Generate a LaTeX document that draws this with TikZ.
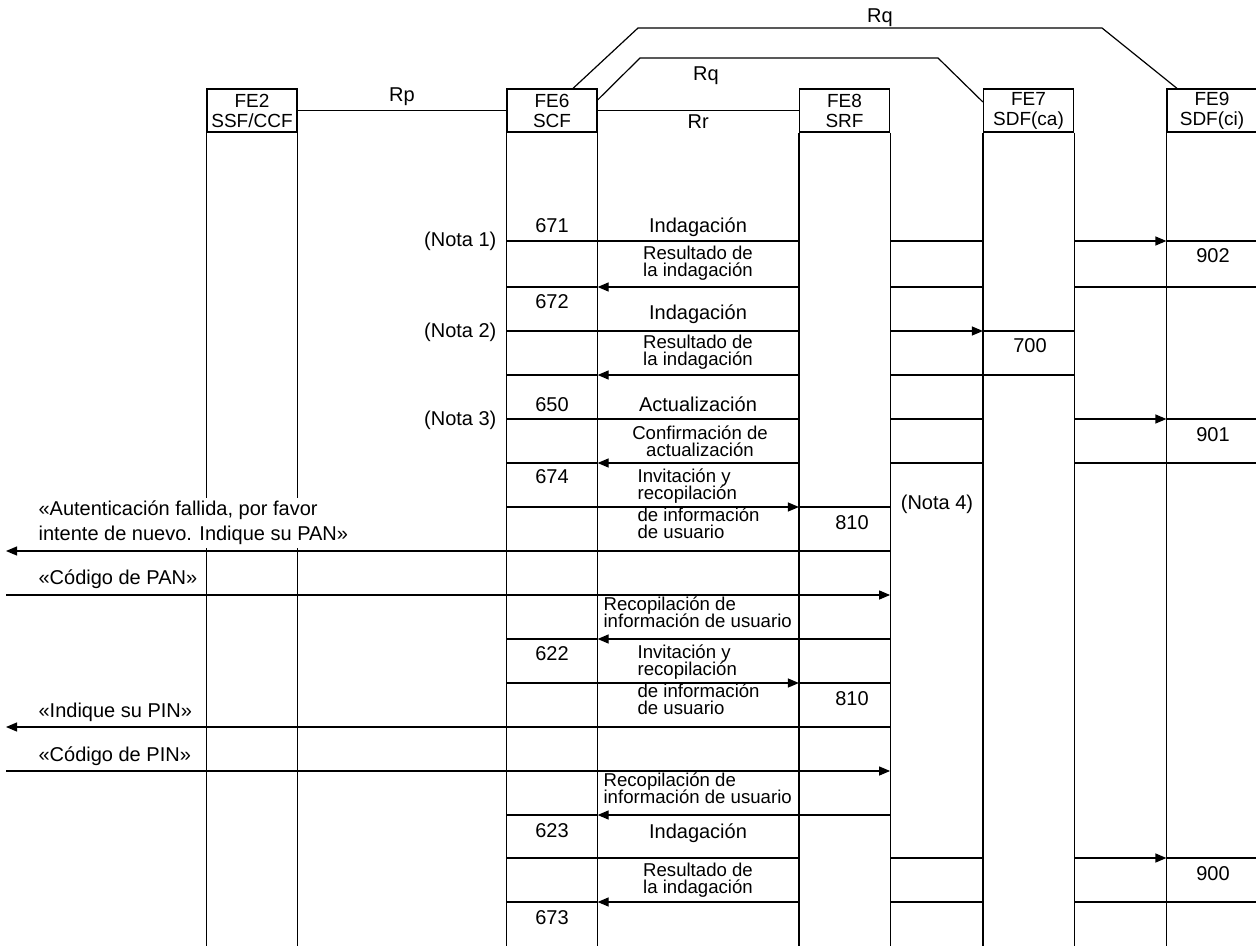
\documentclass[tikz,border=0pt]{standalone}
\usepackage{fontspec}
\setmainfont{Liberation Sans}
\usetikzlibrary{arrows.meta}

\tikzset{
  hdr/.style={draw, minimum width=45pt, minimum height=21.5pt, inner sep=0pt,
    align=center, font=\fontsize{9.5}{10}\selectfont},
  lab/.style={inner sep=0pt, font=\fontsize{10}{12}\selectfont},
  sml/.style={inner sep=0pt, align=center,
    font={\fontsize{9.3}{8.5}\selectfont\lineskiplimit=-5pt\relax}},
  arr/.style={-{Triangle[length=5.5pt,width=4.5pt]}},
}

\begin{document}
\begin{tikzpicture}[x=0.5pt, y=-0.5pt, line width=0.6pt]
\useasboundingbox (0,0) rectangle (1256,946);

% Entity heads
\node[hdr] (fe2) at (252,110.5) {FE2\\SSF/CCF};
\node[hdr] (fe6) at (552,110.5) {FE6\\SCF};
\node[hdr] (fe8) at (844.5,110.5) {FE8\\SRF};
\node[hdr] (fe7) at (1028.5,110.5) {FE7\\SDF(ca)};
\node[hdr] (fe9) at (1212,110.5) {FE9\\SDF(ci)};

% Column edges
\coordinate (a2) at (fe2.south west); \coordinate (b2) at (fe2.south east);
\coordinate (a6) at (fe6.south west); \coordinate (b6) at (fe6.south east);
\coordinate (a8) at (fe8.south west); \coordinate (b8) at (fe8.south east);
\coordinate (a7) at (fe7.south west); \coordinate (b7) at (fe7.south east);
\coordinate (a9) at (fe9.south west); \coordinate (b9) at (fe9.south east);
\coordinate (usr) at (6,0);

% Columns
\draw (a2) -- (a2 |- 0,950) (b2) -- (b2 |- 0,950);
\draw (a6) -- (a6 |- 0,950) (b6) -- (b6 |- 0,950);
\draw (a8) -- (a8 |- 0,950) (b8) -- (b8 |- 0,950);
\draw (a7) -- (a7 |- 0,950) (b7) -- (b7 |- 0,950);
\draw (a9) -- (a9 |- 0,950) (b9) -- (b9 |- 0,950);

% Reference points
\draw (fe2) -- node[lab, anchor=base, yshift=4.25pt] (rp) {Rp} (fe6);
\draw (fe6) -- node[lab, anchor=base, yshift=-9pt] (rr) {Rr} (fe8);
\draw (fe6.north east |- 0,100) -- (640,58) -- (938,58) -- (fe7.west |- 0,102);
\node[lab, anchor=base] (rq1) at (706,81) {Rq};
\draw (573,0 |- fe6.north) -- (638,28) -- (1102,28) -- (1177,0 |- fe9.north);
\node[lab, anchor=base] (rq2) at (880,23) {Rq};

% Indagacion 671 / 902
\node[lab, anchor=base] (n671) at (552,233) {671};
\node[lab, anchor=base] (ind1) at (698,233) {Indagación};
\node[lab, anchor=base east] (nota1) at (497,247) {(Nota 1)};
\draw (a6 |- 0,241) -- (a8 |- 0,241) (b8 |- 0,241) -- (a7 |- 0,241) (a9 |- 0,241) -- (b9 |- 0,241);
\draw[arr] (b7 |- 0,241) -- (a9 |- 0,241);
\node[lab, anchor=base] (n902) at (1213,263) {902};
\node[sml] (res1) at (698,263) {Resultado de\\la indagación};
\draw (a6 |- 0,287) -- (b6 |- 0,287) (b8 |- 0,287) -- (a7 |- 0,287) (b7 |- 0,287) -- (b9 |- 0,287);
\draw[arr] (a8 |- 0,287) -- (b6 |- 0,287);

% Indagacion 672 / 700
\node[lab, anchor=base] (n672) at (552,308) {672};
\node[lab, anchor=base] (ind2) at (698,320) {Indagación};
\node[lab, anchor=base east] (nota2) at (497,337) {(Nota 2)};
\draw (a6 |- 0,331) -- (a8 |- 0,331) (a7 |- 0,331) -- (b7 |- 0,331);
\draw[arr] (b8 |- 0,331) -- (a7 |- 0,331);
\node[lab, anchor=base] (n700) at (1030,352) {700};
\node[sml] (res2) at (698,352) {Resultado de\\la indagación};
\draw (a6 |- 0,375) -- (b6 |- 0,375) (b8 |- 0,375) -- (b7 |- 0,375);
\draw[arr] (a8 |- 0,375) -- (b6 |- 0,375);

% Actualizacion 650 / 901
\node[lab, anchor=base] (n650) at (552,411) {650};
\node[lab, anchor=base] (act) at (698,411) {Actualización};
\node[lab, anchor=base east] (nota3) at (497,425) {(Nota 3)};
\draw (a6 |- 0,419) -- (a8 |- 0,419) (b8 |- 0,419) -- (a7 |- 0,419) (a9 |- 0,419) -- (b9 |- 0,419);
\draw[arr] (b7 |- 0,419) -- (a9 |- 0,419);
\node[lab, anchor=base] (n901) at (1213,441) {901};
\node[sml] (conf) at (700,441) {Confirmación de\\actualización};
\draw (a6 |- 0,463) -- (b6 |- 0,463) (b8 |- 0,463) -- (a7 |- 0,463) (b7 |- 0,463) -- (b9 |- 0,463);
\draw[arr] (a8 |- 0,463) -- (b6 |- 0,463);

% Invitacion 674 / 810, PAN
\node[lab, anchor=base] (n674) at (552,483) {674};
\node[sml, align=left, anchor=west] (inv1) at (637,486) {Invitación y\\recopilación};
\draw[arr] (a6 |- 0,507) -- (a8 |- 0,507);
\draw (a8 |- 0,507) -- (b8 |- 0,507);
\node[sml, align=left, anchor=west] (inf1) at (637,523) {de información\\de usuario};
\node[lab, anchor=base] (n810a) at (852,529) {810};
\node[lab, anchor=base] (nota4) at (937,509) {(Nota 4)};
\node[lab, fill=white, inner sep=1.5pt, align=left, anchor=west,
  font=\fontsize{10}{12.5}\selectfont] (aut) at (35,523)
  {«Autenticación fallida, por favor\\intente de nuevo. Indique su PAN»};
\draw[arr] (b8 |- 0,551) -- (usr |- 0,551);
\node[lab, anchor=base west] (pan) at (38,584) {«Código de PAN»};
\draw[arr] (usr |- 0,595) -- (b8 |- 0,595);
\node[sml, align=left, anchor=west] (rec1) at (603,612) {Recopilación de\\información de usuario};
\draw (a6 |- 0,639) -- (b6 |- 0,639);
\draw[arr] (b8 |- 0,639) -- (b6 |- 0,639);

% Invitacion 622 / 810, PIN
\node[lab, anchor=base] (n622) at (552,660) {622};
\node[sml, align=left, anchor=west] (inv2) at (637,662) {Invitación y\\recopilación};
\draw[arr] (a6 |- 0,683) -- (a8 |- 0,683);
\draw (a8 |- 0,683) -- (b8 |- 0,683);
\node[sml, align=left, anchor=west] (inf2) at (637,699) {de información\\de usuario};
\node[lab, anchor=base] (n810b) at (852,705) {810};
\node[lab, anchor=base west] (pin1) at (38,717) {«Indique su PIN»};
\draw[arr] (b8 |- 0,727) -- (usr |- 0,727);
\node[lab, anchor=base west] (pin2) at (38,761) {«Código de PIN»};
\draw[arr] (usr |- 0,771) -- (b8 |- 0,771);
\node[sml, align=left, anchor=west] (rec2) at (603,788) {Recopilación de\\información de usuario};
\draw (a6 |- 0,815) -- (b6 |- 0,815);
\draw[arr] (b8 |- 0,815) -- (b6 |- 0,815);

% Indagacion 623 / 900
\node[lab, anchor=base] (n623) at (552,837) {623};
\node[lab, anchor=base] (ind3) at (698,838) {Indagación};
\draw (a6 |- 0,858) -- (a8 |- 0,858) (b8 |- 0,858) -- (a7 |- 0,858) (a9 |- 0,858) -- (b9 |- 0,858);
\draw[arr] (b7 |- 0,858) -- (a9 |- 0,858);
\node[lab, anchor=base] (n900) at (1213,880) {900};
\node[sml] (res3) at (698,880) {Resultado de\\la indagación};
\draw (a6 |- 0,902) -- (b6 |- 0,902) (b8 |- 0,902) -- (a7 |- 0,902) (b7 |- 0,902) -- (b9 |- 0,902);
\draw[arr] (a8 |- 0,902) -- (b6 |- 0,902);
\node[lab, anchor=base] (n673) at (552,924) {673};
\end{tikzpicture}
\end{document}
